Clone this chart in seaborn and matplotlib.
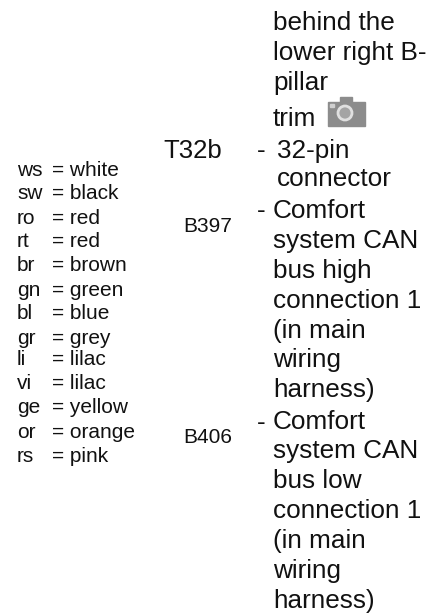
import matplotlib
matplotlib.use("Agg")
import matplotlib.pyplot as plt
from matplotlib.patches import Rectangle, Circle
import seaborn as sns

sns.set_theme(style="white")
plt.rcParams["font.family"] = ["Liberation Sans", "DejaVu Sans"]

# Colour codes on the left
codes = ["ws", "sw", "ro", "rt", "br", "gn", "bl", "gr", "li", "vi", "ge", "or", "rs"]
colours = ["white", "black", "red", "red", "brown", "green", "blue", "grey", "lilac", "lilac", "yellow", "orange", "pink"]
code_y = [176, 199, 224, 247, 271, 296, 319, 344, 365, 389, 413, 438, 462]

# Right column, one entry per text line
body_lines = ["behind the", "lower right B-", "pillar", "trim", "32-pin", "connector", "Comfort", "system CAN",
              "bus high", "connection 1", "(in main", "wiring", "harness)", "Comfort", "system CAN", "bus low",
              "connection 1", "(in main", "wiring", "harness)"]
body_x = [273, 273, 273, 273, 277, 277, 273, 273, 273, 273, 273, 273, 273, 273, 273, 273, 273, 273, 273, 273]
body_y = [30, 60, 90, 126, 158, 186, 218, 248, 278, 308, 338, 367, 397, 429, 458, 488, 518, 548, 578, 608]

dash_y = [158, 218, 430]

labels = ["T32b", "B397", "B406"]
label_x = [163, 183, 183]
label_y = [158, 232, 443]
label_size = [18.5, 15, 15]

fig = plt.figure(figsize=(4.45, 6.16), dpi=100)
ax = fig.add_axes([0, 0, 1, 1])
ax.set_xlim(0, 445)
ax.set_ylim(616, 0)
ax.axis("off")

for c, name, y in zip(codes, colours, code_y):
    ax.text(17, y, c, fontsize=15, va="baseline", color="#111111")
    ax.text(52, y, "= " + name, fontsize=15, va="baseline", color="#111111")

for t, x, y in zip(body_lines, body_x, body_y):
    ax.text(x, y, t, fontsize=18.8, va="baseline", color="#111111")

for y in dash_y:
    ax.text(257, y, "-", fontsize=18.8, va="baseline", color="#111111")

for t, x, y, s in zip(labels, label_x, label_y, label_size):
    ax.text(x, y, t, fontsize=s, va="baseline", color="#111111")

# small camera icon next to "trim"
ax.add_patch(Rectangle((328, 102), 37, 23.5, color="#8c8c8c"))
ax.add_patch(Rectangle((340, 97), 12, 6, color="#8c8c8c"))
ax.add_patch(Rectangle((330, 104), 4, 3, color="#d0d0d0"))
ax.add_patch(Circle((345, 113), 7, fc="#a4a4a4", ec="#e0e0e0", lw=2))

fig.savefig("out.png", dpi=100)
